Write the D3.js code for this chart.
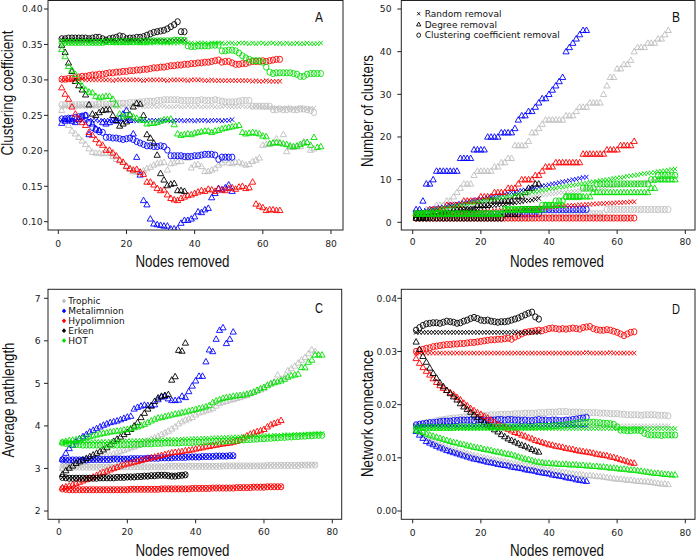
<!DOCTYPE html>
<html>
<head>
<meta charset="utf-8">
<script src="https://cdn.jsdelivr.net/npm/d3@7"></script>
<style>
  body { margin: 0; background: #fff; }
</style>
</head>
<body>
<svg id="chart" width="697" height="560"></svg>
<script>
// Networks, in legend order
const networks = ["Trophic", "Metalimnion", "Hypolimnion", "Erken", "HOT"];
const netColors = ["#bebebe", "#0000ff", "#ff0000", "#000000", "#00e000"];
const removalTypes = ["Random removal", "Degree removal", "Clustering coefficient removal"];
const xTicks = [0, 20, 40, 60, 80];

// ---------- Panel A: clustering coefficient ----------
const A_grey_rand = [
  0.262,0.262,0.262,0.263,0.262,0.262,0.263,0.262,0.262,0.262,
  0.263,0.262,0.262,0.262,0.263,0.263,0.262,0.262,0.263,0.262,
  0.262,0.262,0.263,0.263,0.262,0.262,0.262,0.263,0.262,0.263,
  0.263,0.262,0.262,0.262,0.263,0.262,0.262,0.263,0.262,0.262,
  0.263,0.262,0.262,0.262,0.263,0.262,0.262,0.262,0.263,0.262,
  0.262,0.262,0.262,0.263,0.262,0.262,0.262,0.263,0.262,0.261,
  0.261,0.261,0.260,0.261,0.260,0.260,0.261,0.260,0.260,0.260,
  0.261,0.260,0.259,0.260,0.260];
const A_grey_deg = [
  0.257,0.245,0.236,0.228,0.224,0.219,0.214,0.209,0.203,0.198,
  0.197,0.197,0.196,0.197,0.196,0.192,0.188,0.186,0.184,0.179,
  0.174,0.171,0.170,0.170,0.172,0.175,0.177,0.180,0.182,0.183,
  0.184,0.173,0.182,0.183,0.185,0.185,0.191,0.190,0.176,0.180,
  0.181,0.178,0.171,0.171,0.173,0.175,0.180,0.183,0.187,0.183,
  0.182,0.184,0.184,0.182,0.180,0.181,0.185,0.187,0.190,0.208,
  0.209,0.210,0.211,0.217,0.211,0.223,0.199,0.205,0.205,0.206,
  0.206,0.213,0.212,0.201,0.203];
const A_grey_circ = [
  0.265,0.265,0.265,0.265,0.265,0.265,0.265,0.265,0.265,0.265,
  0.265,0.266,0.266,0.266,0.266,0.266,0.267,0.267,0.267,0.267,
  0.268,0.268,0.268,0.269,0.269,0.270,0.270,0.270,0.271,0.271,
  0.272,0.272,0.272,0.272,0.272,0.271,0.271,0.271,0.271,0.271,
  0.271,0.272,0.271,0.271,0.271,0.272,0.271,0.270,0.269,0.269,
  0.269,0.269,0.270,0.271,0.271,0.271,0.263,0.263,0.263,0.263,
  0.263,0.263,0.258,0.258,0.259,0.258,0.258,0.259,0.258,0.258,
  0.259,0.259,0.258,0.257,0.254];
const A_blue_rand = [
  0.244,0.243,0.243,0.243,0.242,0.243,0.243,0.242,0.243,0.243,
  0.243,0.242,0.243,0.243,0.243,0.242,0.243,0.243,0.242,0.243,
  0.243,0.243,0.242,0.243,0.243,0.242,0.243,0.243,0.243,0.242,
  0.243,0.243,0.242,0.243,0.243,0.243,0.242,0.243,0.243,0.242,
  0.243,0.243,0.243,0.242,0.243,0.243,0.243,0.242,0.243,0.243,
  0.244];
const A_blue_deg = [
  0.239,0.242,0.244,0.242,0.240,0.244,0.248,0.250,0.223,0.238,
  0.231,0.229,0.240,0.238,0.240,0.243,0.242,0.246,0.252,0.257,
  0.243,0.224,0.191,0.166,0.130,0.124,0.104,0.097,0.096,0.095,
  0.094,0.094,0.090,0.090,0.090,0.098,0.102,0.102,0.104,0.107,
  0.114,0.113,0.117,0.119,0.134,0.140,0.147,0.145,0.148,0.152,
  0.143];
const A_blue_circ = [
  0.245,0.245,0.246,0.246,0.247,0.248,0.249,0.250,0.240,0.233,
  0.230,0.227,0.226,0.219,0.219,0.218,0.218,0.217,0.216,0.217,
  0.218,0.216,0.213,0.211,0.209,0.207,0.207,0.206,0.206,0.207,
  0.206,0.201,0.193,0.193,0.193,0.193,0.192,0.192,0.192,0.193,
  0.193,0.194,0.195,0.195,0.195,0.194,0.188,0.191,0.191,0.191,
  0.191];
const A_red_rand = [
  0.300,0.300,0.300,0.300,0.300,0.300,0.301,0.300,0.300,0.300,
  0.300,0.300,0.300,0.300,0.300,0.299,0.300,0.300,0.300,0.300,
  0.300,0.300,0.300,0.300,0.299,0.300,0.300,0.300,0.300,0.300,
  0.300,0.299,0.300,0.300,0.300,0.300,0.300,0.299,0.300,0.300,
  0.300,0.300,0.299,0.299,0.300,0.299,0.299,0.299,0.299,0.299,
  0.299,0.299,0.299,0.299,0.299,0.299,0.298,0.299,0.298,0.298,
  0.299,0.298,0.298,0.298,0.298];
const A_red_deg = [
  0.289,0.280,0.273,0.262,0.252,0.245,0.240,0.236,0.226,0.222,
  0.216,0.211,0.208,0.201,0.201,0.197,0.193,0.187,0.184,0.178,
  0.175,0.173,0.174,0.170,0.167,0.156,0.156,0.152,0.147,0.144,
  0.145,0.138,0.133,0.131,0.130,0.133,0.135,0.137,0.138,0.140,
  0.142,0.144,0.143,0.146,0.145,0.143,0.146,0.145,0.144,0.147,
  0.148,0.146,0.149,0.150,0.147,0.148,0.156,0.125,0.122,0.120,
  0.116,0.117,0.117,0.116,0.116];
const A_red_circ = [
  0.301,0.301,0.302,0.302,0.303,0.304,0.305,0.305,0.306,0.307,
  0.307,0.308,0.308,0.309,0.310,0.310,0.311,0.311,0.312,0.312,
  0.313,0.313,0.314,0.314,0.315,0.315,0.316,0.317,0.317,0.318,
  0.318,0.319,0.320,0.320,0.321,0.321,0.322,0.322,0.323,0.323,
  0.324,0.324,0.325,0.325,0.326,0.327,0.328,0.325,0.326,0.326,
  0.324,0.322,0.322,0.323,0.323,0.325,0.326,0.326,0.326,0.327,
  0.326,0.327,0.328,0.329,0.329];
const A_black_rand = [
  0.357,0.356,0.356,0.356,0.356,0.356,0.356,0.356,0.356,0.356,
  0.356,0.356,0.355,0.356,0.356,0.356,0.355,0.356,0.356,0.356,
  0.356,0.356,0.356,0.355,0.356,0.356,0.356,0.356,0.356,0.356,
  0.356,0.355,0.356,0.356,0.356,0.356,0.356];
const A_black_deg = [
  0.349,0.339,0.324,0.312,0.298,0.292,0.286,0.279,0.265,0.252,
  0.250,0.254,0.257,0.258,0.258,0.250,0.243,0.235,0.238,0.241,
  0.251,0.262,0.267,0.266,0.250,0.223,0.218,0.211,0.194,0.168,
  0.159,0.151,0.153,0.154,0.144,0.144,0.143];
const A_black_circ = [
  0.358,0.358,0.359,0.359,0.359,0.359,0.359,0.359,0.358,0.359,
  0.360,0.360,0.358,0.356,0.358,0.359,0.360,0.362,0.361,0.358,
  0.359,0.359,0.360,0.360,0.361,0.363,0.365,0.367,0.368,0.369,
  0.370,0.372,0.375,0.378,0.382,0.368,0.368];
const A_green_rand = [
  0.353,0.353,0.352,0.352,0.352,0.352,0.352,0.353,0.352,0.352,
  0.352,0.352,0.352,0.352,0.353,0.352,0.352,0.352,0.352,0.352,
  0.352,0.353,0.352,0.352,0.352,0.352,0.352,0.352,0.353,0.352,
  0.352,0.352,0.352,0.352,0.352,0.353,0.352,0.352,0.352,0.351,
  0.352,0.352,0.352,0.351,0.352,0.352,0.352,0.352,0.351,0.352,
  0.352,0.351,0.352,0.352,0.352,0.351,0.352,0.351,0.352,0.352,
  0.351,0.352,0.352,0.351,0.352,0.351,0.352,0.351,0.351,0.352,
  0.351,0.351,0.352,0.351,0.351,0.351,0.352];
const A_green_deg = [
  0.343,0.333,0.319,0.314,0.308,0.298,0.291,0.286,0.283,0.282,
  0.277,0.275,0.276,0.277,0.277,0.273,0.265,0.252,0.248,0.250,
  0.251,0.248,0.246,0.244,0.243,0.238,0.239,0.239,0.240,0.242,
  0.244,0.244,0.245,0.237,0.224,0.222,0.223,0.224,0.223,0.225,
  0.226,0.227,0.228,0.228,0.226,0.228,0.229,0.231,0.232,0.233,
  0.234,0.235,0.236,0.226,0.224,0.225,0.226,0.225,0.224,0.221,
  0.220,0.210,0.211,0.212,0.211,0.210,0.209,0.207,0.206,0.207,
  0.209,0.211,0.212,0.208,0.219,0.205,0.206];
const A_green_circ = [
  0.353,0.353,0.353,0.353,0.353,0.353,0.353,0.353,0.353,0.353,
  0.353,0.353,0.353,0.354,0.354,0.354,0.354,0.354,0.354,0.354,
  0.354,0.354,0.354,0.354,0.354,0.354,0.355,0.355,0.355,0.355,
  0.355,0.355,0.355,0.356,0.356,0.356,0.356,0.348,0.347,0.347,
  0.348,0.348,0.348,0.348,0.349,0.349,0.349,0.341,0.341,0.342,
  0.342,0.341,0.338,0.334,0.331,0.329,0.327,0.327,0.327,0.325,
  0.318,0.311,0.309,0.310,0.310,0.310,0.310,0.310,0.309,0.308,
  0.305,0.305,0.308,0.309,0.309,0.309,0.309];

// ---------- Panel B: number of clusters ----------
const B_grey_rand = [
  1.9,2.0,2.2,2.3,2.4,2.6,2.7,2.8,3.0,3.1,
  3.2,3.3,3.5,3.6,3.7,3.8,4.0,4.1,4.2,4.3,
  4.4,4.6,4.7,4.8,4.9,5.0,5.1,5.3,5.4,5.5,
  5.6,5.7,5.8,5.9,6.0,6.2,6.3,6.4,6.5,6.6,
  6.7,6.8,6.9,7.0,7.1,7.2,7.3,7.4,7.5,7.6,
  7.7,7.8,7.9,8.0,8.1,8.2,8.3,8.4,8.5,8.6,
  8.7,8.8,8.9,9.0,9.1,9.2,9.3,9.4,9.5,9.7,
  9.8,9.9,10.0,10.2,10.3];
const B_grey_deg = [
  2,2,2,3,3,3,4,4,4,5,
  5,6,7,8,9,9,9,11,12,12,
  12,12,12,13,13,14,14,15,15,18,
  18,18,18,19,21,21,22,23,24,24,
  24,24,24,24,25,25,25,26,27,27,
  27,28,28,28,28,30,32,34,34,36,
  36,37,37,38,40,41,41,41,42,42,
  42,43,43,44,45];
const B_grey_circ = [
  1,1,1,1,1,1,1,1,1,1,
  1,1,1,1,1,1,1,1,1,1,
  1,1,1,1,1,1,1,1,1,1,
  1,1,1,1,2,2,2,2,2,2,
  2,2,2,2,2,2,2,2,2,2,
  2,2,2,2,2,2,3,3,3,3,
  3,3,3,3,3,3,3,3,3,3,
  3,3,3,3,3];
const B_blue_rand = [
  2.3,2.5,2.6,2.8,3.0,3.1,3.3,3.5,3.6,3.8,
  4.0,4.1,4.3,4.5,4.6,4.8,5.0,5.1,5.3,5.5,
  5.6,5.8,6.0,6.1,6.3,6.5,6.6,6.8,7.0,7.1,
  7.3,7.5,7.6,7.8,8.0,8.1,8.3,8.5,8.6,8.8,
  9.0,9.1,9.3,9.5,9.6,9.8,10.0,10.1,10.3,10.5,
  10.6];
const B_blue_deg = [
  3,3,5,9,9,10,12,12,12,12,
  12,12,12,15,15,15,15,17,17,17,
  17,20,20,20,20,21,21,21,21,22,
  24,25,25,26,26,27,28,29,29,30,
  31,32,33,34,40,41,42,43,44,45,
  45];
const B_blue_circ = [
  2,2,2,2,2,2,2,2,2,2,
  2,2,2,2,2,2,2,2,2,2,
  2,2,2,2,2,2,2,2,2,2,
  2,2,2,2,2,2,2,3,3,3,
  3,3,3,3,3,3,3,3,3,3,
  3];
const B_red_rand = [
  1.5,1.6,1.6,1.7,1.7,1.8,1.8,1.9,1.9,2.0,
  2.0,2.1,2.1,2.2,2.2,2.3,2.3,2.4,2.4,2.5,
  2.5,2.6,2.6,2.7,2.7,2.8,2.8,2.9,2.9,3.0,
  3.0,3.1,3.1,3.2,3.2,3.3,3.3,3.4,3.4,3.5,
  3.6,3.7,3.8,3.8,3.9,3.9,4.0,4.0,4.1,4.1,
  4.2,4.2,4.3,4.3,4.4,4.4,4.5,4.5,4.5,4.6,
  4.6,4.7,4.7,4.8,4.8];
const B_red_deg = [
  2,2,2,2,3,3,3,3,3,4,
  4,4,4,4,5,5,5,5,5,6,
  6,6,6,7,7,7,7,8,8,8,
  9,10,10,10,10,11,11,12,13,13,
  13,14,14,14,14,14,14,14,14,16,
  16,16,16,16,16,16,17,17,17,17,
  18,18,18,18,19];
const B_red_circ = [
  1,1,1,1,1,1,1,1,1,1,
  1,1,1,1,1,1,1,1,1,1,
  1,1,1,1,1,1,1,1,1,1,
  1,1,1,1,1,1,1,1,1,1,
  1,1,1,1,1,1,1,1,1,1,
  1,1,1,1,1,1,1,1,1,1,
  1,1,1,1,1];
const B_black_rand = [
  1.3,1.4,1.5,1.6,1.8,1.9,2.0,2.1,2.2,2.3,
  2.5,2.6,2.7,2.8,2.9,3.0,3.1,3.2,3.3,3.5,
  3.6,3.7,3.8,3.9,4.0,4.1,4.2,4.4,4.5,4.6,
  4.7,4.8,5.0,5.1,5.2,5.4,5.6];
const B_black_deg = [
  1,1,1,1,2,2,2,2,2,2,
  2,3,3,3,3,3,3,3,4,4,
  4,4,5,5,5,5,5,5,5,6,
  6,6,7,8,8,9,9];
const B_black_circ = [
  1,1,1,1,1,1,1,1,1,1,
  1,1,1,1,1,1,1,1,1,1,
  1,1,1,1,1,1,2,2,2,2,
  2,3,3,3,3,3,3];
const B_green_rand = [
  2.0,2.2,2.3,2.5,2.7,2.8,3.0,3.1,3.3,3.4,
  3.6,3.7,3.9,4.0,4.2,4.3,4.5,4.6,4.8,4.9,
  5.1,5.2,5.4,5.5,5.7,5.8,5.9,6.1,6.2,6.4,
  6.5,6.6,6.8,6.9,7.1,7.2,7.3,7.5,7.6,7.8,
  7.9,8.0,8.2,8.3,8.4,8.6,8.7,8.8,9.0,9.1,
  9.2,9.4,9.5,9.6,9.8,9.9,10.0,10.1,10.3,10.4,
  10.5,10.6,10.8,10.9,11.0,11.1,11.3,11.4,11.5,11.6,
  11.7,11.9,12.0,12.1,12.2,12.4,12.5];
const B_green_deg = [
  2,2,2,2,2,2,2,2,2,2,
  2,2,2,2,2,2,2,2,2,2,
  2,2,2,2,2,2,3,3,3,3,
  3,3,3,3,3,3,3,3,4,4,
  4,4,4,4,6,6,6,6,6,6,
  6,6,7,7,7,7,7,7,7,7,
  7,7,7,7,7,7,7,7,7,8,
  8,10,10,10,10,10,10];
const B_green_circ = [
  2,2,2,2,2,2,2,2,2,2,
  2,2,2,2,2,2,2,2,2,2,
  2,2,2,2,2,2,3,3,3,3,
  3,3,3,3,3,3,3,4,4,4,
  4,5,5,5,6,6,6,6,6,8,
  8,8,8,9,9,9,9,9,9,9,
  9,9,9,9,9,9,9,9,9,10,
  10,11,11,11,11,11,11];

// ---------- Panel C: average path length ----------
const C_grey_rand = [
  3.04,3.04,3.04,3.04,3.04,3.04,3.04,3.04,3.04,3.04,
  3.04,3.04,3.04,3.04,3.05,3.05,3.05,3.05,3.05,3.05,
  3.05,3.05,3.05,3.05,3.05,3.05,3.05,3.05,3.05,3.05,
  3.05,3.06,3.06,3.06,3.06,3.06,3.06,3.06,3.06,3.06,
  3.06,3.06,3.06,3.06,3.06,3.06,3.06,3.07,3.07,3.07,
  3.07,3.07,3.07,3.07,3.07,3.07,3.07,3.07,3.07,3.07,
  3.08,3.08,3.08,3.08,3.08,3.08,3.08,3.08,3.08,3.08,
  3.09,3.09,3.09,3.09,3.09];
const C_grey_deg = [
  3.00,3.05,3.08,3.10,3.12,3.14,3.16,3.18,3.20,3.22,
  3.24,3.26,3.28,3.30,3.32,3.35,3.37,3.40,3.43,3.46,
  3.49,3.51,3.54,3.57,3.61,3.65,3.69,3.72,3.76,3.80,
  3.84,3.88,3.93,3.98,4.05,4.10,4.14,4.17,4.20,4.26,
  4.31,4.33,4.36,4.38,4.41,4.47,4.53,4.56,4.58,4.61,
  4.62,4.65,4.67,4.70,4.72,4.76,4.79,4.82,4.85,4.88,
  4.97,5.00,5.04,5.20,5.10,5.15,5.30,5.35,5.41,5.48,
  5.55,5.61,5.70,5.79,5.75];
const C_grey_circ = [
  3.03,3.03,3.03,3.03,3.03,3.03,3.03,3.03,3.03,3.03,
  3.03,3.03,3.03,3.03,3.03,3.03,3.04,3.04,3.04,3.04,
  3.04,3.04,3.04,3.04,3.04,3.04,3.04,3.04,3.04,3.04,
  3.04,3.05,3.05,3.05,3.05,3.05,3.05,3.05,3.05,3.05,
  3.05,3.05,3.05,3.05,3.05,3.05,3.05,3.06,3.06,3.06,
  3.06,3.06,3.06,3.06,3.06,3.06,3.06,3.06,3.06,3.06,
  3.07,3.07,3.07,3.07,3.07,3.07,3.07,3.07,3.07,3.07,
  3.08,3.08,3.08,3.08,3.08];
const C_blue_rand = [
  3.21,3.21,3.21,3.21,3.21,3.21,3.21,3.21,3.22,3.22,
  3.22,3.22,3.22,3.22,3.22,3.23,3.23,3.23,3.23,3.23,
  3.23,3.24,3.24,3.24,3.24,3.24,3.25,3.25,3.25,3.25,
  3.25,3.25,3.26,3.26,3.26,3.26,3.26,3.27,3.27,3.27,
  3.27,3.27,3.28,3.28,3.28,3.28,3.28,3.29,3.29,3.29,
  3.29];
const C_blue_deg = [
  3.22,3.36,3.47,3.55,3.63,3.70,3.75,3.80,3.86,3.90,
  3.94,3.98,4.02,4.05,4.08,4.10,4.12,4.15,4.18,4.21,
  4.23,4.40,4.44,4.47,4.49,4.48,4.48,4.50,4.62,4.68,
  4.70,4.64,4.60,4.60,4.61,4.70,4.67,4.81,4.94,5.06,
  5.17,5.17,5.51,5.79,5.75,6.04,6.25,6.31,5.94,6.04,
  6.21];
const C_blue_circ = [
  3.20,3.20,3.20,3.20,3.20,3.20,3.20,3.20,3.21,3.21,
  3.21,3.21,3.21,3.21,3.21,3.22,3.22,3.22,3.22,3.22,
  3.23,3.23,3.23,3.23,3.23,3.24,3.24,3.24,3.24,3.25,
  3.25,3.25,3.25,3.26,3.26,3.26,3.26,3.27,3.27,3.27,
  3.27,3.28,3.28,3.28,3.28,3.29,3.29,3.29,3.29,3.30,
  3.30];
const C_red_rand = [
  2.52,2.52,2.51,2.51,2.51,2.51,2.51,2.51,2.51,2.51,
  2.51,2.51,2.51,2.51,2.51,2.51,2.51,2.51,2.51,2.51,
  2.52,2.52,2.52,2.52,2.52,2.52,2.52,2.52,2.52,2.53,
  2.53,2.53,2.53,2.53,2.53,2.53,2.53,2.53,2.54,2.54,
  2.54,2.54,2.54,2.54,2.55,2.55,2.55,2.55,2.55,2.55,
  2.55,2.56,2.56,2.56,2.56,2.56,2.57,2.57,2.57,2.57,
  2.58,2.58,2.58,2.58,2.58];
const C_red_deg = [
  2.55,2.57,2.59,2.62,2.65,2.68,2.71,2.74,2.77,2.80,
  2.84,2.88,2.91,2.94,2.97,3.00,3.03,3.06,3.09,3.11,
  3.13,3.15,3.17,3.19,3.21,3.23,3.25,3.27,3.29,3.31,
  3.33,3.35,3.37,3.38,3.39,3.40,3.42,3.43,3.44,3.46,
  3.48,3.49,3.51,3.52,3.54,3.55,3.57,3.58,3.59,3.60,
  3.62,3.64,3.67,3.72,3.77,3.81,3.84,3.87,3.89,3.92,
  3.98,4.03,4.06,4.09,4.13];
const C_red_circ = [
  2.52,2.51,2.50,2.50,2.50,2.50,2.50,2.50,2.50,2.50,
  2.50,2.50,2.50,2.50,2.50,2.50,2.50,2.50,2.50,2.50,
  2.51,2.51,2.51,2.51,2.51,2.51,2.51,2.51,2.51,2.52,
  2.52,2.52,2.52,2.52,2.52,2.52,2.52,2.52,2.53,2.53,
  2.53,2.53,2.53,2.53,2.54,2.54,2.54,2.54,2.54,2.54,
  2.54,2.55,2.55,2.55,2.55,2.55,2.56,2.56,2.56,2.56,
  2.57,2.57,2.57,2.57,2.57];
const C_black_rand = [
  2.79,2.79,2.78,2.78,2.78,2.78,2.78,2.78,2.78,2.78,
  2.78,2.78,2.79,2.79,2.79,2.79,2.79,2.80,2.80,2.80,
  2.80,2.81,2.81,2.81,2.82,2.82,2.82,2.83,2.83,2.84,
  2.84,2.84,2.84,2.84,2.84,2.85,2.85];
const C_black_deg = [
  2.86,2.95,3.01,3.06,3.12,3.16,3.20,3.24,3.28,3.32,
  3.36,3.40,3.44,3.49,3.56,3.64,3.69,3.74,3.80,3.85,
  3.92,4.00,4.08,4.20,4.30,4.40,4.47,4.58,4.66,4.70,
  4.72,4.74,5.08,5.16,5.78,5.76,5.95];
const C_black_circ = [
  2.79,2.78,2.77,2.77,2.77,2.77,2.77,2.77,2.77,2.77,
  2.77,2.78,2.78,2.78,2.78,2.78,2.79,2.79,2.79,2.80,
  2.80,2.80,2.81,2.81,2.82,2.82,2.83,2.83,2.84,2.84,
  2.84,2.83,2.82,2.82,2.83,2.84,2.85];
const C_green_rand = [
  3.62,3.62,3.62,3.62,3.62,3.62,3.62,3.62,3.62,3.63,
  3.63,3.63,3.63,3.63,3.64,3.64,3.64,3.64,3.64,3.65,
  3.65,3.65,3.65,3.66,3.66,3.66,3.66,3.67,3.67,3.67,
  3.67,3.68,3.68,3.68,3.68,3.69,3.69,3.69,3.70,3.70,
  3.70,3.71,3.71,3.71,3.72,3.72,3.72,3.73,3.73,3.73,
  3.74,3.74,3.74,3.75,3.75,3.75,3.76,3.76,3.76,3.77,
  3.77,3.77,3.78,3.78,3.78,3.79,3.79,3.79,3.80,3.80,
  3.80,3.81,3.81,3.81,3.82,3.82,3.82];
const C_green_deg = [
  3.62,3.64,3.66,3.67,3.68,3.70,3.71,3.73,3.75,3.77,
  3.79,3.81,3.83,3.84,3.86,3.87,3.88,3.89,3.91,3.92,
  3.94,3.96,3.98,4.01,4.04,4.08,4.12,4.16,4.19,4.20,
  4.22,4.24,4.26,4.28,4.29,4.31,4.33,4.35,4.37,4.39,
  4.41,4.43,4.45,4.48,4.55,4.59,4.62,4.65,4.67,4.68,
  4.70,4.71,4.72,4.73,4.75,4.77,4.80,4.84,4.88,4.91,
  4.95,4.99,5.02,5.04,5.06,5.10,5.15,5.18,5.20,5.22,
  5.38,5.37,5.50,5.55,5.67,5.67,5.67];
const C_green_circ = [
  3.60,3.59,3.58,3.57,3.56,3.56,3.55,3.55,3.55,3.55,
  3.55,3.55,3.55,3.55,3.55,3.55,3.55,3.56,3.56,3.56,
  3.56,3.57,3.57,3.57,3.58,3.58,3.58,3.59,3.59,3.59,
  3.60,3.60,3.60,3.60,3.60,3.61,3.61,3.61,3.61,3.62,
  3.62,3.62,3.63,3.63,3.63,3.64,3.64,3.64,3.65,3.65,
  3.66,3.66,3.67,3.67,3.68,3.68,3.69,3.69,3.70,3.70,
  3.71,3.71,3.72,3.72,3.73,3.73,3.74,3.74,3.75,3.75,
  3.76,3.76,3.77,3.77,3.78,3.78,3.78];

// ---------- Panel D: network connectance ----------
const D_grey_rand = [
  0.0160,0.0160,0.0160,0.0160,0.0160,0.0160,0.0160,0.0160,0.0160,0.0160,
  0.0160,0.0160,0.0160,0.0160,0.0160,0.0160,0.0160,0.0160,0.0160,0.0160,
  0.0160,0.0160,0.0160,0.0160,0.0160,0.0160,0.0160,0.0160,0.0160,0.0160,
  0.0160,0.0160,0.0160,0.0160,0.0160,0.0160,0.0160,0.0160,0.0160,0.0160,
  0.0160,0.0160,0.0160,0.0160,0.0160,0.0160,0.0160,0.0160,0.0160,0.0160,
  0.0160,0.0160,0.0160,0.0160,0.0160,0.0160,0.0160,0.0160,0.0160,0.0160,
  0.0160,0.0160,0.0160,0.0160,0.0160,0.0160,0.0160,0.0160,0.0160,0.0160,
  0.0160,0.0160,0.0160,0.0160,0.0160];
const D_grey_deg = [
  0.0152,0.0147,0.0142,0.0137,0.0133,0.0130,0.0127,0.0124,0.0122,0.0119,
  0.0117,0.0115,0.0113,0.0111,0.0110,0.0108,0.0106,0.0104,0.0103,0.0101,
  0.0100,0.0099,0.0097,0.0096,0.0095,0.0094,0.0093,0.0091,0.0090,0.0089,
  0.0088,0.0087,0.0086,0.0085,0.0083,0.0082,0.0080,0.0079,0.0078,0.0077,
  0.0076,0.0075,0.0074,0.0073,0.0072,0.0071,0.0070,0.0069,0.0069,0.0068,
  0.0067,0.0067,0.0066,0.0065,0.0065,0.0064,0.0063,0.0062,0.0061,0.0060,
  0.0060,0.0059,0.0058,0.0058,0.0057,0.0056,0.0056,0.0055,0.0055,0.0054,
  0.0053,0.0052,0.0051,0.0051,0.0050];
const D_grey_circ = [
  0.0160,0.0162,0.0164,0.0166,0.0167,0.0168,0.0170,0.0171,0.0172,0.0173,
  0.0174,0.0175,0.0175,0.0176,0.0177,0.0177,0.0178,0.0178,0.0179,0.0180,
  0.0180,0.0180,0.0181,0.0181,0.0181,0.0182,0.0182,0.0182,0.0182,0.0183,
  0.0183,0.0183,0.0184,0.0184,0.0184,0.0184,0.0185,0.0185,0.0185,0.0186,
  0.0186,0.0186,0.0187,0.0187,0.0187,0.0186,0.0186,0.0186,0.0186,0.0185,
  0.0185,0.0185,0.0185,0.0185,0.0184,0.0184,0.0184,0.0183,0.0183,0.0183,
  0.0182,0.0182,0.0181,0.0181,0.0181,0.0181,0.0180,0.0181,0.0181,0.0181,
  0.0181,0.0180,0.0180,0.0180,0.0179];
const D_blue_rand = [
  0.0160,0.0160,0.0160,0.0160,0.0160,0.0160,0.0160,0.0160,0.0160,0.0160,
  0.0160,0.0160,0.0160,0.0160,0.0160,0.0160,0.0160,0.0160,0.0160,0.0160,
  0.0160,0.0160,0.0160,0.0160,0.0160,0.0160,0.0160,0.0160,0.0160,0.0160,
  0.0160,0.0160,0.0160,0.0160,0.0160,0.0160,0.0160,0.0160,0.0160,0.0160,
  0.0160,0.0160,0.0160,0.0160,0.0160,0.0160,0.0160,0.0160,0.0160,0.0160,
  0.0160];
const D_blue_deg = [
  0.0150,0.0143,0.0137,0.0131,0.0128,0.0125,0.0122,0.0119,0.0117,0.0114,
  0.0112,0.0110,0.0108,0.0106,0.0104,0.0102,0.0100,0.0098,0.0097,0.0095,
  0.0094,0.0092,0.0091,0.0090,0.0088,0.0087,0.0086,0.0085,0.0083,0.0082,
  0.0081,0.0080,0.0078,0.0077,0.0076,0.0075,0.0073,0.0072,0.0071,0.0070,
  0.0068,0.0067,0.0066,0.0065,0.0063,0.0062,0.0061,0.0059,0.0058,0.0057,
  0.0056];
const D_blue_circ = [
  0.0162,0.0163,0.0164,0.0165,0.0166,0.0166,0.0167,0.0168,0.0169,0.0169,
  0.0169,0.0170,0.0170,0.0171,0.0171,0.0171,0.0171,0.0170,0.0171,0.0172,
  0.0171,0.0170,0.0171,0.0171,0.0172,0.0172,0.0171,0.0172,0.0172,0.0171,
  0.0171,0.0170,0.0171,0.0170,0.0170,0.0171,0.0172,0.0171,0.0171,0.0170,
  0.0171,0.0171,0.0170,0.0170,0.0171,0.0171,0.0172,0.0173,0.0174,0.0175,
  0.0176];
const D_red_rand = [
  0.0297,0.0297,0.0297,0.0297,0.0297,0.0297,0.0297,0.0297,0.0297,0.0297,
  0.0297,0.0297,0.0297,0.0297,0.0297,0.0297,0.0297,0.0297,0.0297,0.0297,
  0.0297,0.0297,0.0297,0.0297,0.0297,0.0297,0.0297,0.0297,0.0297,0.0297,
  0.0297,0.0297,0.0297,0.0297,0.0297,0.0297,0.0297,0.0297,0.0297,0.0297,
  0.0297,0.0297,0.0297,0.0297,0.0297,0.0297,0.0297,0.0297,0.0297,0.0297,
  0.0298,0.0297,0.0297,0.0297,0.0297,0.0297,0.0297,0.0298,0.0297,0.0297,
  0.0297,0.0297,0.0297,0.0297,0.0297];
const D_red_deg = [
  0.0287,0.0278,0.0270,0.0263,0.0256,0.0249,0.0242,0.0236,0.0231,0.0227,
  0.0223,0.0219,0.0214,0.0209,0.0203,0.0198,0.0193,0.0189,0.0185,0.0182,
  0.0178,0.0175,0.0171,0.0167,0.0163,0.0160,0.0157,0.0154,0.0151,0.0148,
  0.0146,0.0143,0.0141,0.0138,0.0136,0.0133,0.0131,0.0129,0.0127,0.0125,
  0.0124,0.0122,0.0121,0.0120,0.0118,0.0117,0.0116,0.0114,0.0113,0.0112,
  0.0111,0.0110,0.0109,0.0107,0.0106,0.0105,0.0104,0.0102,0.0101,0.0099,
  0.0097,0.0095,0.0093,0.0091,0.0090];
const D_red_circ = [
  0.0300,0.0302,0.0304,0.0306,0.0307,0.0309,0.0310,0.0311,0.0312,0.0313,
  0.0313,0.0314,0.0314,0.0315,0.0315,0.0316,0.0317,0.0317,0.0318,0.0319,
  0.0320,0.0321,0.0322,0.0322,0.0323,0.0323,0.0324,0.0325,0.0323,0.0327,
  0.0330,0.0333,0.0336,0.0337,0.0338,0.0339,0.0340,0.0339,0.0341,0.0343,
  0.0344,0.0343,0.0342,0.0343,0.0342,0.0343,0.0344,0.0343,0.0342,0.0345,
  0.0346,0.0347,0.0343,0.0341,0.0340,0.0340,0.0341,0.0340,0.0338,0.0336,
  0.0333,0.0330,0.0333,0.0336,0.0337];
const D_black_rand = [
  0.0336,0.0336,0.0336,0.0336,0.0336,0.0336,0.0336,0.0336,0.0336,0.0336,
  0.0336,0.0336,0.0336,0.0336,0.0336,0.0336,0.0336,0.0336,0.0336,0.0336,
  0.0336,0.0336,0.0336,0.0336,0.0336,0.0336,0.0336,0.0336,0.0336,0.0337,
  0.0336,0.0335,0.0336,0.0336,0.0336,0.0336,0.0336];
const D_black_deg = [
  0.0318,0.0304,0.0291,0.0280,0.0269,0.0259,0.0250,0.0241,0.0234,0.0227,
  0.0221,0.0215,0.0209,0.0202,0.0196,0.0191,0.0186,0.0181,0.0176,0.0171,
  0.0167,0.0162,0.0158,0.0153,0.0149,0.0144,0.0140,0.0136,0.0133,0.0130,
  0.0127,0.0124,0.0122,0.0119,0.0116,0.0113,0.0111];
const D_black_circ = [
  0.0340,0.0345,0.0349,0.0352,0.0353,0.0354,0.0354,0.0353,0.0355,0.0357,
  0.0356,0.0355,0.0353,0.0354,0.0357,0.0359,0.0362,0.0364,0.0362,0.0359,
  0.0358,0.0359,0.0357,0.0356,0.0355,0.0356,0.0356,0.0357,0.0359,0.0361,
  0.0363,0.0366,0.0369,0.0372,0.0374,0.0365,0.0361];
const D_green_rand = [
  0.0155,0.0155,0.0155,0.0155,0.0155,0.0155,0.0155,0.0155,0.0155,0.0155,
  0.0155,0.0155,0.0155,0.0155,0.0155,0.0155,0.0155,0.0155,0.0155,0.0155,
  0.0155,0.0155,0.0155,0.0155,0.0155,0.0155,0.0155,0.0155,0.0155,0.0155,
  0.0155,0.0155,0.0155,0.0155,0.0155,0.0155,0.0155,0.0155,0.0155,0.0155,
  0.0155,0.0155,0.0155,0.0155,0.0155,0.0155,0.0155,0.0155,0.0155,0.0155,
  0.0155,0.0155,0.0155,0.0155,0.0155,0.0155,0.0155,0.0155,0.0155,0.0155,
  0.0155,0.0155,0.0155,0.0155,0.0155,0.0155,0.0155,0.0155,0.0155,0.0155,
  0.0155,0.0155,0.0155,0.0155,0.0155,0.0155,0.0155];
const D_green_deg = [
  0.0152,0.0150,0.0148,0.0145,0.0143,0.0141,0.0139,0.0137,0.0135,0.0133,
  0.0131,0.0129,0.0128,0.0126,0.0125,0.0123,0.0122,0.0120,0.0119,0.0118,
  0.0116,0.0115,0.0114,0.0112,0.0111,0.0110,0.0108,0.0107,0.0106,0.0104,
  0.0102,0.0100,0.0098,0.0097,0.0095,0.0093,0.0092,0.0091,0.0090,0.0090,
  0.0089,0.0089,0.0088,0.0088,0.0088,0.0087,0.0087,0.0087,0.0086,0.0086,
  0.0085,0.0085,0.0084,0.0084,0.0083,0.0083,0.0082,0.0081,0.0081,0.0080,
  0.0079,0.0079,0.0078,0.0077,0.0077,0.0076,0.0075,0.0074,0.0073,0.0072,
  0.0071,0.0071,0.0070,0.0069,0.0069,0.0068,0.0068];
const D_green_circ = [
  0.0156,0.0157,0.0157,0.0157,0.0157,0.0157,0.0157,0.0157,0.0157,0.0157,
  0.0157,0.0157,0.0158,0.0158,0.0158,0.0158,0.0158,0.0158,0.0158,0.0158,
  0.0158,0.0158,0.0158,0.0158,0.0158,0.0158,0.0158,0.0158,0.0158,0.0158,
  0.0158,0.0158,0.0158,0.0158,0.0158,0.0158,0.0159,0.0159,0.0159,0.0159,
  0.0160,0.0160,0.0161,0.0161,0.0162,0.0163,0.0164,0.0165,0.0166,0.0166,
  0.0167,0.0167,0.0167,0.0166,0.0166,0.0165,0.0165,0.0164,0.0163,0.0158,
  0.0152,0.0152,0.0151,0.0151,0.0152,0.0152,0.0151,0.0146,0.0144,0.0143,
  0.0143,0.0143,0.0142,0.0143,0.0143,0.0143,0.0143];

// [network][removal type]
const seriesA = [[A_grey_rand, A_grey_deg, A_grey_circ], [A_blue_rand, A_blue_deg, A_blue_circ],
  [A_red_rand, A_red_deg, A_red_circ], [A_black_rand, A_black_deg, A_black_circ], [A_green_rand, A_green_deg, A_green_circ]];
const seriesB = [[B_grey_rand, B_grey_deg, B_grey_circ], [B_blue_rand, B_blue_deg, B_blue_circ],
  [B_red_rand, B_red_deg, B_red_circ], [B_black_rand, B_black_deg, B_black_circ], [B_green_rand, B_green_deg, B_green_circ]];
const seriesC = [[C_grey_rand, C_grey_deg, C_grey_circ], [C_blue_rand, C_blue_deg, C_blue_circ],
  [C_red_rand, C_red_deg, C_red_circ], [C_black_rand, C_black_deg, C_black_circ], [C_green_rand, C_green_deg, C_green_circ]];
const seriesD = [[D_grey_rand, D_grey_deg, D_grey_circ], [D_blue_rand, D_blue_deg, D_blue_circ],
  [D_red_rand, D_red_deg, D_red_circ], [D_black_rand, D_black_deg, D_black_circ], [D_green_rand, D_green_deg, D_green_circ]];

const panels = [
  {letter: "A", series: seriesA, box: [48, 0.5, 343, 230], xr: [58.3, 331], yd: [0.10, 0.40], yr: [221.7, 9],
   yTicks: [0.10, 0.15, 0.20, 0.25, 0.30, 0.35, 0.40], fmt: d3.format(".2f"), tickRight: 42.5, xTickY: 246.6,
   yLabel: "Clustering coefficient", yLabelX: 13, yLabelY: 93, yLabelLen: 125,
   xLabelX: 182.5, xLabelY: 267, letterPos: [319, 22]},
  {letter: "B", series: seriesB, box: [401.3, 0.5, 695, 230], xr: [412.7, 685.3], yd: [0, 50], yr: [222.3, 9],
   yTicks: [0, 10, 20, 30, 40, 50], fmt: d3.format("d"), tickRight: 391.5, xTickY: 245,
   yLabel: "Number of clusters", yLabelX: 372.5, yLabelY: 111, yLabelLen: 112,
   xLabelX: 557, xLabelY: 267, letterPos: [676, 22]},
  {letter: "C", series: seriesC, box: [48, 289.3, 341.7, 519.3], xr: [59, 332.3], yd: [2, 7], yr: [511, 298.3],
   yTicks: [2, 3, 4, 5, 6, 7], fmt: d3.format("d"), tickRight: 40.7, xTickY: 535,
   yLabel: "Average pathlength", yLabelX: 13.5, yLabelY: 400, yLabelLen: 115,
   xLabelX: 182.5, xLabelY: 556, letterPos: [319, 313]},
  {letter: "D", series: seriesD, box: [401.3, 289.3, 695, 519.3], xr: [412.7, 685.3], yd: [0, 0.04], yr: [511, 298.3],
   yTicks: [0, 0.01, 0.02, 0.03, 0.04], fmt: d3.format(".2f"), tickRight: 397, xTickY: 535.6,
   yLabel: "Network connectance", yLabelX: 373, yLabelY: 413.5, yLabelLen: 127,
   xLabelX: 557, xLabelY: 556, letterPos: [676, 314]}
];

const svg = d3.select("#chart");
svg.append("rect").attr("width", 697).attr("height", 560).attr("fill", "#fff");

// Marker shapes: 0 = x (random), 1 = triangle (degree), 2 = circle (clustering)
function markerPath(type, x, y, s = 1) {
  if (type === 0) {
    const a = 2.1 * s, b = 2.3 * s;
    return `M${x - a},${y - b}L${x + a},${y + b}M${x - a},${y + b}L${x + a},${y - b}`;
  }
  if (type === 1) {
    const w = 3.1 * s, t = 3.3 * s, bt = 2.2 * s;
    return `M${x},${y - t}L${x + w},${y + bt}L${x - w},${y + bt}Z`;
  }
  const rx = 2.7 * s, ry = 3.1 * s;
  return `M${x - rx},${y}A${rx},${ry} 0 1,0 ${x + rx},${y}A${rx},${ry} 0 1,0 ${x - rx},${y}Z`;
}

panels.forEach((p) => {
  const [x0, y0, x1, y1] = p.box;
  const x = d3.scaleLinear().domain([0, 80]).range(p.xr);
  const y = d3.scaleLinear().domain(p.yd).range(p.yr);
  const g = svg.append("g");

  const clipId = "clip" + p.letter;
  svg.append("clipPath").attr("id", clipId)
    .append("rect").attr("x", x0).attr("y", y0).attr("width", x1 - x0).attr("height", y1 - y0);

  // Points
  const pts = g.append("g").attr("clip-path", `url(#${clipId})`)
    .attr("fill", "none").attr("stroke-width", 0.9);
  p.series.forEach((net, ni) => {
    net.forEach((vals, ti) => {
      pts.append("g").attr("stroke", netColors[ni])
        .selectAll("path").data(vals).join("path")
        .attr("d", (v, i) => markerPath(ti, x(i + 1), y(v)));
    });
  });

  // Box
  g.append("rect").attr("x", x0).attr("y", y0).attr("width", x1 - x0).attr("height", y1 - y0)
    .attr("fill", "none").attr("stroke", "#222").attr("stroke-width", 1);

  // Ticks
  const ticks = g.append("g").attr("stroke", "#222").attr("stroke-width", 1);
  ticks.selectAll(".xt").data(xTicks).join("line")
    .attr("x1", d => x(d)).attr("x2", d => x(d)).attr("y1", y1).attr("y2", y1 + 4);
  ticks.selectAll(".yt").data(p.yTicks).join("line")
    .attr("y1", d => y(d)).attr("y2", d => y(d)).attr("x1", x0).attr("x2", x0 - 4);

  const tickFont = g.append("g").attr("font-family", "DejaVu Sans, sans-serif")
    .attr("font-size", 9.2).attr("fill", "#222");
  tickFont.selectAll(".xl").data(xTicks).join("text")
    .attr("x", d => x(d)).attr("y", p.xTickY).attr("text-anchor", "middle").text(d => d);
  tickFont.selectAll(".yl").data(p.yTicks).join("text")
    .attr("x", p.tickRight).attr("y", d => y(d) + 3.3).attr("text-anchor", "end").text(d => p.fmt(d));

  // Axis titles (narrow, as in the original)
  g.append("text").attr("x", p.xLabelX).attr("y", p.xLabelY)
    .attr("text-anchor", "middle").attr("font-family", "Liberation Sans, Arial, sans-serif")
    .attr("font-size", 17).attr("fill", "#111")
    .attr("textLength", 94).attr("lengthAdjust", "spacingAndGlyphs")
    .text("Nodes removed");
  g.append("text")
    .attr("transform", `translate(${p.yLabelX},${p.yLabelY}) rotate(-90)`)
    .attr("text-anchor", "middle").attr("font-family", "Liberation Sans, Arial, sans-serif")
    .attr("font-size", 16).attr("fill", "#111")
    .attr("textLength", p.yLabelLen).attr("lengthAdjust", "spacingAndGlyphs")
    .text(p.yLabel);

  // Panel letter
  g.append("text").attr("x", p.letterPos[0]).attr("y", p.letterPos[1])
    .attr("text-anchor", "middle").attr("font-family", "Liberation Sans, Arial, sans-serif")
    .attr("font-size", 14).attr("fill", "#111")
    .attr("textLength", 8).attr("lengthAdjust", "spacingAndGlyphs")
    .text(p.letter);
});

// Legend of removal types (panel B)
const legB = svg.append("g").attr("font-family", "DejaVu Sans, sans-serif").attr("font-size", 9).attr("fill", "#111");
const legBY = [13.7, 24.4, 35.2];
removalTypes.forEach((name, i) => {
  legB.append("path").attr("d", markerPath(i, 418.7, legBY[i], 0.7))
    .attr("fill", "none").attr("stroke", "#000").attr("stroke-width", 0.9);
  legB.append("text").attr("x", 424.7).attr("y", legBY[i] + 3.2).text(name);
});

// Legend of networks (panel C)
const legC = svg.append("g").attr("font-family", "DejaVu Sans, sans-serif").attr("font-size", 9).attr("fill", "#111");
networks.forEach((name, i) => {
  const cy = 301 + i * 9.9;
  legC.append("path").attr("d", `M64,${cy - 2.4}L66.2,${cy}L64,${cy + 2.4}L61.8,${cy}Z`)
    .attr("fill", netColors[i]);
  legC.append("text").attr("x", 68.3).attr("y", cy + 3.2).text(name);
});
</script>
</body>
</html>
